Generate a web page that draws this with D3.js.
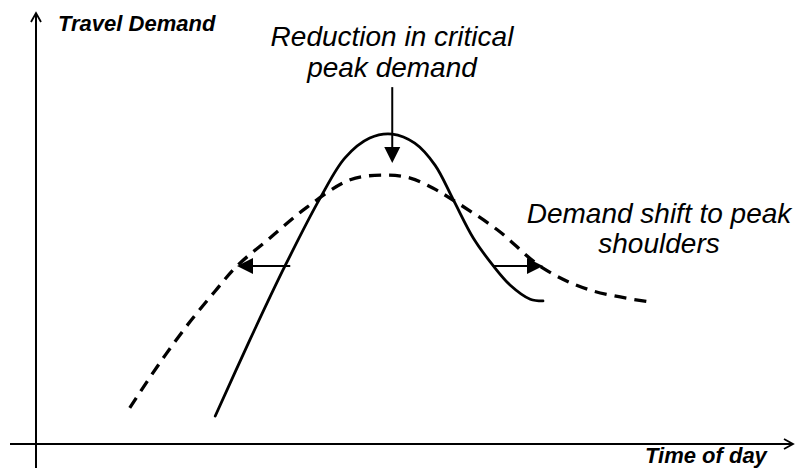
<!DOCTYPE html>
<html>
<head>
<meta charset="utf-8">
<script src="https://cdn.jsdelivr.net/npm/d3@7"></script>
<style>
  html, body { margin: 0; padding: 0; background: #fff; }
  svg { display: block; }
  text { font-family: "Liberation Sans", Arial, sans-serif; fill: #000; }
</style>
</head>
<body>
<svg id="chart" width="795" height="470"></svg>
<script>
// ---- Data (time of day in arbitrary units 0..100, demand in arbitrary units 0..100) ----
const originalTime   = [23.9, 28.5, 33.2, 37.9, 41.2, 44.5, 47.5, 50.5, 53.2, 55.6, 58.3, 60.9, 63.2, 65.9, 67.6];
const originalDemand = [ 6.5, 24.1, 41.3, 57.1, 66.4, 71.0, 71.9, 69.8, 64.7, 56.8, 47.8, 41.5, 36.9, 33.6, 33.2];

const shiftedTime   = [12.5, 16.5, 20.5, 23.9, 26.8, 31.2, 36.1, 41.9, 46.5, 49.9, 52.9, 55.6, 61.5, 67.6, 73.9, 82.1];
const shiftedDemand = [ 8.4, 18.8, 28.3, 35.5, 41.3, 47.8, 54.9, 61.3, 62.4, 61.7, 59.4, 56.6, 49.7, 40.8, 35.7, 32.9];

const axisLabels = ["Travel Demand", "Time of day"];
const peakNote = ["Reduction in critical", "peak demand"];
const shoulderNote = ["Demand shift to peak", "shoulders"];

// annotation arrows: [x1, y1, x2(tip), y2(tip)] in data units
const peakArrow = [47.5, 82.8, 47.5, 65.2];
const leftArrow = [33.9, 41.3, 26.8, 41.3];
const rightArrow = [60.9, 41.3, 67.6, 41.3];

// ---- Setup ----
const svg = d3.select("#chart");
const x = d3.scaleLinear().domain([0, 100]).range([36, 786]);
const y = d3.scaleLinear().domain([0, 100]).range([444, 13]);

// Axes (arrowed lines)
const axisG = svg.append("g").attr("stroke", "#000").attr("fill", "none").attr("stroke-width", 2);
axisG.append("line").attr("x1", x(0)).attr("x2", x(0)).attr("y1", 468).attr("y2", y(100));
axisG.append("path").attr("d", `M${x(0)-5},${y(100)+9} L${x(0)},${y(100)} L${x(0)+5},${y(100)+9}`)
  .attr("stroke-width", 1.8).attr("stroke-linejoin", "miter");
axisG.append("line").attr("x1", 10).attr("x2", 793).attr("y1", y(0)).attr("y2", y(0));
axisG.append("path").attr("d", `M784,${y(0)-5} L793,${y(0)} L784,${y(0)+5}`)
  .attr("stroke-width", 1.8);

// Curves
const line = d3.line().x(d => x(d[0])).y(d => y(d[1])).curve(d3.curveCatmullRom.alpha(0.5));
const original = originalTime.map((t, i) => [t, originalDemand[i]]);
const shifted = shiftedTime.map((t, i) => [t, shiftedDemand[i]]);

svg.append("path").datum(shifted).attr("d", line)
  .attr("fill", "none").attr("stroke", "#000").attr("stroke-width", 3.3)
  .attr("stroke-dasharray", "12,8");
svg.append("path").datum(original).attr("d", line)
  .attr("fill", "none").attr("stroke", "#000").attr("stroke-width", 2.8)
  .attr("stroke-linecap", "round");

// Annotation arrows
function arrow(a) {
  const x1 = x(a[0]), y1 = y(a[1]), x2 = x(a[2]), y2 = y(a[3]);
  const ang = Math.atan2(y2 - y1, x2 - x1);
  const L = 16, W = 8;
  const bx = x2 - L * Math.cos(ang), by = y2 - L * Math.sin(ang);
  svg.append("line").attr("x1", x1).attr("y1", y1).attr("x2", bx).attr("y2", by)
    .attr("stroke", "#000").attr("stroke-width", 2);
  const px = -Math.sin(ang) * W, py = Math.cos(ang) * W;
  svg.append("path")
    .attr("d", `M${x2},${y2} L${bx + px},${by + py} L${bx - px},${by - py} Z`)
    .attr("fill", "#000");
}
arrow(peakArrow);
arrow(leftArrow);
arrow(rightArrow);

// Axis labels
svg.append("text").attr("x", 58).attr("y", 31)
  .attr("font-size", 22).attr("font-weight", "bold").attr("font-style", "italic")
  .text(axisLabels[0]);
svg.append("text").attr("x", 645).attr("y", 463)
  .attr("font-size", 22).attr("font-weight", "bold").attr("font-style", "italic")
  .text(axisLabels[1]);

// Notes
const n1 = svg.append("text").attr("text-anchor", "middle").attr("font-size", 28).attr("font-style", "italic");
n1.append("tspan").attr("x", 392).attr("y", 46).text(peakNote[0]);
n1.append("tspan").attr("x", 392).attr("y", 77).text(peakNote[1]);

const n2 = svg.append("text").attr("text-anchor", "middle").attr("font-size", 28).attr("font-style", "italic");
n2.append("tspan").attr("x", 659).attr("y", 223).text(shoulderNote[0]);
n2.append("tspan").attr("x", 659).attr("y", 253).text(shoulderNote[1]);
</script>
</body>
</html>
